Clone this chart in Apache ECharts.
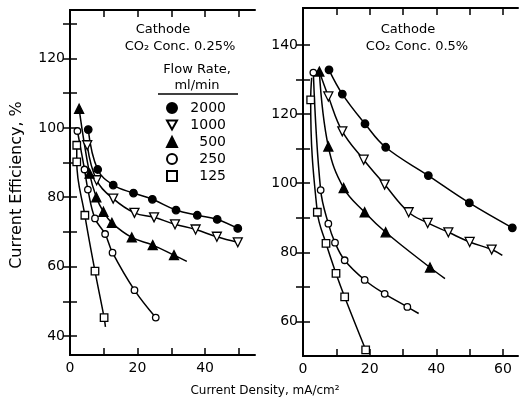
<!DOCTYPE html>
<html><head><meta charset="utf-8">
<script src="https://cdn.jsdelivr.net/npm/echarts@6/dist/echarts.min.js"></script>
<style>html,body{margin:0;padding:0;background:#fff}#c{width:526px;height:402px}</style>
</head><body><div id="c"></div>
<script>
// ---- Data ----
const flowRates = ['2000', '1000', '500', '250', '125'];

// Left panel: CO2 0.25%  [current density mA/cm2, current efficiency %]
const left2000 = [[5.4,99.5],[8.2,88],[12.8,83.5],[18.8,81.2],[24.4,79.4],[31.4,76.3],[37.7,74.8],[43.6,73.6],[49.7,71]];
const left1000 = [[5.1,95],[7.9,84.9],[12.8,79.6],[19.1,75.5],[24.9,74.2],[31.1,72.2],[37.2,70.7],[43.5,68.6],[49.7,67]];
const left500  = [[2.7,105.5],[5.8,86.8],[7.8,80],[9.9,75.8],[12.4,72.6],[18.3,68.4],[24.5,66.2],[30.8,63.3]];
const left250  = [[2.2,99.1],[4.3,88],[5.3,82.2],[7.4,73.9],[10.4,69.4],[12.6,64],[19.1,53.2],[25.4,45.3]];
const left125  = [[2,95],[2,90.2],[4.4,74.8],[7.4,58.7],[10.1,45.3]];
const left500Tail = [34.6,61.5];
const left125Tail = [10.5,42.6];

// Right panel: CO2 0.5%
const right2000 = [[7.8,132.8],[11.8,125.8],[18.6,117.2],[24.8,110.4],[37.6,102.2],[49.9,94.3],[62.8,87.1]];
const right1000 = [[7.6,125.1],[11.8,115],[18.2,106.8],[24.5,99.6],[31.7,91.6],[37.4,88.5],[43.6,85.8],[50,83],[56.6,80.8]];
const right500  = [[4.9,132.3],[7.6,110.6],[12.2,98.6],[18.5,91.6],[24.8,85.8],[38.1,75.6]];
const right250  = [[3.1,132],[5.3,98],[7.6,88.3],[9.6,82.8],[12.5,77.7],[18.5,72],[24.5,68],[31.3,64.2]];
const right125  = [[2.3,124.1],[4.3,91.6],[6.9,82.6],[9.9,73.9],[12.5,67.1],[18.8,51.8]];
const right1000Head = [4.9,132.3];
const right1000Tail = [59.8,79.1];
const right500Tail = [42.6,72.4];
const right250Tail = [34.7,62.3];
const right125Head = [2.6,130.5];

// Axis ticks / labels
const leftXLabels = [0,20,40];
const leftXTicks = [10,20,30,40,50];
const leftYLabels = [40,60,80,100,120];
const leftYTicks = [40,50,60,70,80,90,100,110,120,130];
const rightXLabels = [0,20,40,60];
const rightXTicks = [10,20,30,40,50,60];
const rightYLabels = [60,80,100,120,140];
const rightYTicks = [60,70,80,90,100,110,120,130,140];

// ---- Chart ----
const FONT = 'DejaVu Sans';
const downTri = 'path://M0,0L10,0L5,9Z';
const styles = {
  '2000': {symbol:'circle', size:7.5, fill:'#000'},
  '1000': {symbol:'triangle', rotate:180, size:9, fill:'#fff'},
  '500':  {symbol:'triangle', size:9, fill:'#000'},
  '250':  {symbol:'circle', size:6.5, fill:'#fff'},
  '125':  {symbol:'rect', size:7.5, fill:'#fff'}
};
function mk(name, pts, head, tail, gi) {
  const st = styles[name];
  const data = [];
  if (head) data.push({value: head, symbol: 'none'});
  pts.forEach(p => data.push(p));
  if (tail) data.push({value: tail, symbol: 'none'});
  return {
    name, type:'line', xAxisIndex: gi*2, yAxisIndex: gi*2, data,
    smooth: 0.4,
    symbol: st.symbol, symbolSize: st.size, symbolRotate: st.rotate || 0,
    showAllSymbol: true,
    lineStyle: {color:'#000', width:1.5},
    itemStyle: {color: st.fill, borderColor:'#000', borderWidth:1.3, opacity:1},
    emphasis: {disabled:true}, animation:false, z: 3
  };
}
const axisLine = {show:true, lineStyle:{color:'#000', width:2}};
const lbl = {color:'#000', fontFamily:FONT, fontSize:14};
function xAxes(gi, min, max, labels, ticks) {
  return [
    {type:'value', gridIndex:gi, position:'bottom', min, max, axisLine,
     axisTick:{show:true, inside:true, length:7, customValues:ticks, lineStyle:{color:'#000', width:1.5}},
     axisLabel:Object.assign({customValues:labels, margin:6}, lbl), splitLine:{show:false}},
    {type:'value', gridIndex:gi, position:'top', min, max, axisLine,
     axisTick:{show:true, inside:true, length:7, customValues:ticks, lineStyle:{color:'#000', width:1.5}},
     axisLabel:{show:false}, splitLine:{show:false}}
  ];
}
function yAxes(gi, min, max, labels, ticks) {
  return [
    {type:'value', gridIndex:gi, position:'left', min, max, axisLine,
     axisTick:{show:true, inside:true, length:7, customValues:ticks, lineStyle:{color:'#000', width:1.5}},
     axisLabel:Object.assign({customValues:labels, margin:5}, lbl), splitLine:{show:false}},
    {type:'value', gridIndex:gi, position:'right', min, max, axisLine,
     axisTick:{show:true, inside:true, length:7, customValues:ticks, lineStyle:{color:'#000', width:1.5}},
     axisLabel:{show:false}, splitLine:{show:false}}
  ];
}
const txt = (x, y, s, size, extra) => ({type:'text', x, y, style:Object.assign({text:s, fill:'#000', font: size + 'px "' + FONT + '"', textAlign:'center', textVerticalAlign:'middle'}, extra||{}), z:10});

const option = {
  animation:false,
  backgroundColor:'#fff',
  grid:[
    {left:70, top:10, width:185, height:345},
    {left:303, top:8, width:215, height:348}
  ],
  xAxis:[...xAxes(0, 0, 54.8, leftXLabels, leftXTicks), ...xAxes(1, 0, 64.5, rightXLabels, rightXTicks)],
  yAxis:[...yAxes(0, 34.5, 134, leftYLabels, leftYTicks), ...yAxes(1, 50, 150.7, rightYLabels, rightYTicks)],
  legend:{
    orient:'vertical', left:166, top:101, itemWidth:10, itemHeight:10, itemGap:3, padding:0,
    selectedMode:false,
    data: flowRates.map(n => ({name:n, icon: n==='1000' ? downTri : (styles[n].symbol)})),
    textStyle:{color:'#000', fontFamily:FONT, fontSize:14, lineHeight:14, rich:{a:{width:44, align:'right', fontFamily:FONT, fontSize:14, lineHeight:14, color:'#000'}}},
    formatter: n => '{a|' + n + '}'
  },
  series:[
    mk('2000', left2000, null, null, 0),
    mk('1000', left1000, null, null, 0),
    mk('500', left500, null, left500Tail, 0),
    mk('250', left250, null, null, 0),
    mk('125', left125, null, left125Tail, 0),
    mk('2000', right2000, null, null, 1),
    mk('1000', right1000, right1000Head, right1000Tail, 1),
    mk('500', right500, null, right500Tail, 1),
    mk('250', right250, null, right250Tail, 1),
    mk('125', right125, right125Head, null, 1)
  ],
  graphic:[
    txt(163, 30, 'Cathode', 13),
    txt(180, 47, 'CO₂ Conc. 0.25%', 13),
    txt(197, 70, 'Flow Rate,', 13),
    txt(197, 86, 'ml/min', 13),
    {type:'line', shape:{x1:158, y1:94, x2:238, y2:94}, style:{stroke:'#000', lineWidth:1.5}, z:10},
    txt(408, 30, 'Cathode', 13),
    txt(417, 47, 'CO₂ Conc. 0.5%', 13),
    txt(265, 391, 'Current Density, mA/cm²', 12),
    Object.assign(txt(17, 185, 'Current Efficiency, %', 16), {rotation: Math.PI/2})
  ]
};
const chart = echarts.init(document.getElementById('c'), null, {renderer:'canvas'});
chart.setOption(option);
</script></body></html>
